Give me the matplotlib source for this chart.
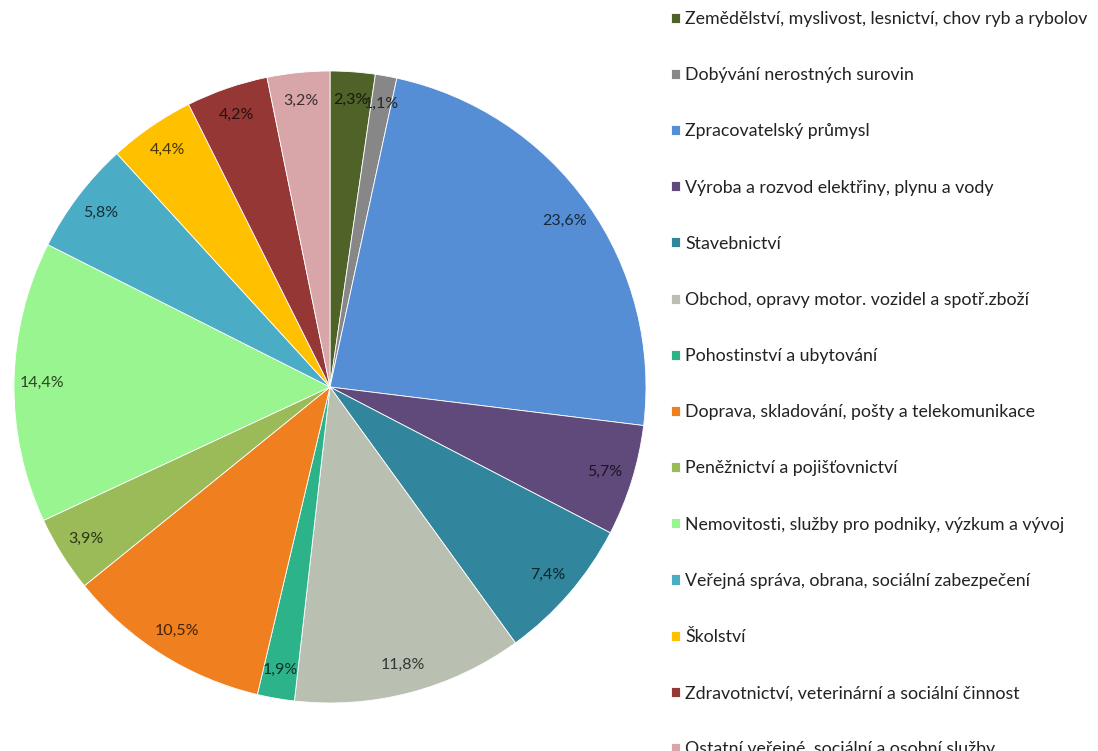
import matplotlib.pyplot as plt
from matplotlib.colors import to_rgb

plt.rcParams['font.family'] = ['Lato', 'DejaVu Sans']

categories = [
    "Zemědělství, myslivost, lesnictví, chov ryb a rybolov",
    "Dobývání nerostných surovin",
    "Zpracovatelský průmysl",
    "Výroba a rozvod elektřiny, plynu a vody",
    "Stavebnictví",
    "Obchod, opravy motor. vozidel a spotř.zboží",
    "Pohostinství a ubytování",
    "Doprava, skladování, pošty a telekomunikace",
    "Peněžnictví a pojišťovnictví",
    "Nemovitosti, služby pro podniky, výzkum a vývoj",
    "Veřejná správa, obrana, sociální zabezpečení",
    "Školství",
    "Zdravotnictví, veterinární a sociální činnost",
    "Ostatní veřejné, sociální a osobní služby",
]
values = [2.3, 1.1, 23.6, 5.7, 7.4, 11.8, 1.9, 10.5, 3.9, 14.4, 5.8, 4.4, 4.2, 3.2]
colors = [
    "#4F6228", "#878787", "#558ED5", "#604A7B", "#31859C", "#BAC0B1", "#2DB38A",
    "#F07F1F", "#9BBB59", "#99F590", "#4BACC6", "#FFC000", "#953735", "#D8A6A9",
]


def darker(c, f=0.28):
    r, g, b = to_rgb(c)
    return (r * f, g * f, b * f)


fig = plt.figure(figsize=(10.98, 7.51), dpi=100)
ax = fig.add_axes([14 / 1098, 48 / 751, 632 / 1098, 632 / 751])

wedges, texts, autotexts = ax.pie(
    values, colors=colors, startangle=90, counterclock=False,
    autopct="%1.1f%%", pctdistance=0.91, radius=1,
    wedgeprops=dict(edgecolor="white", linewidth=0.6),
    textprops=dict(fontsize=11.5),
)
for t, v, c in zip(autotexts, values, colors):
    t.set_text(f"{v:.1f}".replace(".", ",") + "%")
    t.set_color(darker(c))

ax.set_xlim(-1, 1)
ax.set_ylim(-1, 1)
ax.set_aspect("auto")
ax.axis("off")

fig.legend(
    wedges, categories, loc="upper left", bbox_to_anchor=(671 / 1098, 1 - 11 / 751),
    frameon=False, fontsize=12.8, labelspacing=2.26, handlelength=0.5,
    handleheight=0.5, handletextpad=0.3, borderpad=0, borderaxespad=0,
    labelcolor="#222222",
)

fig.savefig("out.png", dpi=100)
